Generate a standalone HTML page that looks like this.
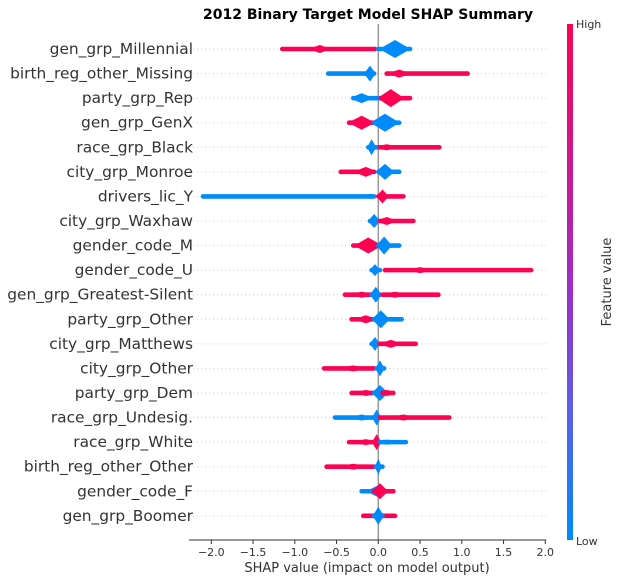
<!DOCTYPE html>
<html><head><meta charset="utf-8"><style>
body{margin:0;background:#fff;width:621px;height:581px;overflow:hidden}
svg{font-family:"DejaVu Sans","Liberation Sans",sans-serif}
</style></head><body>
<svg id="c" width="621" height="581">
<defs><linearGradient id="cg" x1="0" y1="0" x2="0" y2="1">
<stop offset="0" stop-color="#ff0052"/><stop offset="0.5" stop-color="#a02cc4"/><stop offset="0.75" stop-color="#5a5fe6"/><stop offset="1" stop-color="#008bfb"/></linearGradient></defs>
<text x="368" y="19" text-anchor="middle" font-size="14" font-weight="bold" fill="#000">2012 Binary Target Model SHAP Summary</text>
<g id="grid"></g><g id="marks"></g><g id="labels"></g><g id="axis"></g>
<rect x="567" y="24" width="6" height="516" fill="url(#cg)"/>
<text x="576" y="28" font-size="11" fill="#333">High</text>
<text x="576" y="545" font-size="11" fill="#333">Low</text>
<text transform="translate(611,282) rotate(-90)" text-anchor="middle" font-size="13" fill="#333">Feature value</text>
<text x="367" y="572" text-anchor="middle" font-size="13" fill="#333">SHAP value (impact on model output)</text>
</svg>
<script>
const features=["gen_grp_Millennial","birth_reg_other_Missing","party_grp_Rep","gen_grp_GenX","race_grp_Black","city_grp_Monroe","drivers_lic_Y","city_grp_Waxhaw","gender_code_M","gender_code_U","gen_grp_Greatest-Silent","party_grp_Other","city_grp_Matthews","city_grp_Other","party_grp_Dem","race_grp_Undesig.","race_grp_White","birth_reg_other_Other","gender_code_F","gen_grp_Boomer"];
const xTicks=[-2.0,-1.5,-1.0,-0.5,0.0,0.5,1.0,1.5,2.0];
// segments: row index, low, high, peak, half-height (px), colour (r=high, b=low)
const segRow =[0,0,1,1,2,2,3,3,4,4,5,5,6,6,7,7,8,8,9,9,10,10,10,11,11,12,12,13,13,14,14,14,15,15,15,16,16,16,17,17,18,18,19,19];
const segLo  =[-1.15,0.0,-0.6,0.1,-0.3,0.03,-0.35,-0.05,-0.12,0.02,-0.45,0.0,-2.1,0.0,-0.1,0.02,-0.3,0.0,-0.08,0.08,-0.4,-0.08,0.05,-0.32,-0.05,-0.08,0.02,-0.65,-0.02,-0.32,-0.05,0.05,-0.52,-0.06,0.02,-0.35,-0.06,0.02,-0.62,-0.03,-0.2,-0.05,-0.18,-0.05];
const segHi  =[-0.04,0.38,-0.05,1.07,0.05,0.38,-0.05,0.25,0.02,0.73,-0.05,0.25,-0.05,0.3,0.02,0.42,0.0,0.25,0.02,1.83,-0.05,0.02,0.72,-0.03,0.28,0.02,0.45,-0.05,0.07,-0.05,0.1,0.18,-0.05,0.02,0.85,-0.02,0.02,0.33,-0.05,0.05,0.18,0.18,0.2,0.05];
const segPeak=[-0.7,0.2,-0.1,0.25,-0.2,0.15,-0.2,0.08,-0.08,0.1,-0.15,0.08,-0.1,0.05,-0.05,0.1,-0.12,0.07,-0.04,0.5,-0.2,-0.03,0.2,-0.15,0.03,-0.04,0.15,-0.3,0.02,-0.15,0.02,0.1,-0.2,-0.02,0.3,-0.15,-0.02,0.1,-0.3,0.0,0.0,0.02,0.0,0.0];
const segHalf=[4,9,8,4,5,9,7,9,8,3,5,8,2.5,7,7,4,8,9,6,3,3,8,3,4,9,7,4,3,8,3,8,3,3,8,3,3,8,2.5,3,8,6,8,4,9];
const segCol =["r","b","b","r","b","r","r","b","b","r","r","b","b","r","b","r","r","b","b","r","r","b","r","r","b","b","r","r","b","r","b","r","b","b","r","r","r","b","r","b","b","r","r","b"];
const NS="http://www.w3.org/2000/svg";
const X0=378.3, SC=83.5;
function xs(v){return X0+SC*v;}
function ys(i){return 49+i*24.57;}
function mk(t,a,p){const e=document.createElementNS(NS,t);for(const k in a)e.setAttribute(k,a[k]);(p||document.getElementById('c')).appendChild(e);return e;}
const grid=document.getElementById('grid'),marks=document.getElementById('marks'),labels=document.getElementById('labels'),axis=document.getElementById('axis');
features.forEach((f,i)=>{
  const g=mk('line',{x1:189,x2:546,y1:ys(i),y2:ys(i),stroke:'#ccc','stroke-width':1,'stroke-dasharray':'1,3'},grid);
  
  
  const t=mk('text',{x:193,y:ys(i)+5,'text-anchor':'end','font-size':15.4,fill:'#333'},labels);
  t.textContent=f;
  
  
});
const zl=mk('line',{x1:X0,x2:X0,y1:24,y2:540,stroke:'#999','stroke-width':1.5},grid);


for(let k=0;k<segRow.length;k++){
  const y=ys(segRow[k]),lo=xs(segLo[k]),hi=xs(segHi[k]),pk=xs(segPeak[k]),h=segHalf[k],t=2.3;
  const w=Math.max(2,Math.min(h*1.3,(pk-lo),(hi-pk)));
  const col=segCol[k]=='r'?'#ff0052':'#008bfb';
  const d=`M${lo},${y-t} L${pk-w},${y-t} L${pk},${y-h} L${pk+w},${y-t} L${hi},${y-t} A${t},${t} 0 0 1 ${hi},${y+t} L${pk+w},${y+t} L${pk},${y+h} L${pk-w},${y+t} L${lo},${y+t} A${t},${t} 0 0 1 ${lo},${y-t}Z`;
  const p=mk('path',{d:d,fill:col},marks);
  
  
}
const al=mk('line',{x1:189,x2:546,y1:540,y2:540,stroke:'#333','stroke-width':1},axis);


xTicks.forEach(v=>{
  const tk=mk('line',{x1:xs(v),x2:xs(v),y1:540,y2:544,stroke:'#333'},axis);
  
  
  const tl=mk('text',{x:xs(v),y:556,'text-anchor':'middle','font-size':11,fill:'#333'},axis);
  tl.textContent=(v<0?'\u2212':'')+Math.abs(v).toFixed(1);
  
  
});
</script>
</body></html>
